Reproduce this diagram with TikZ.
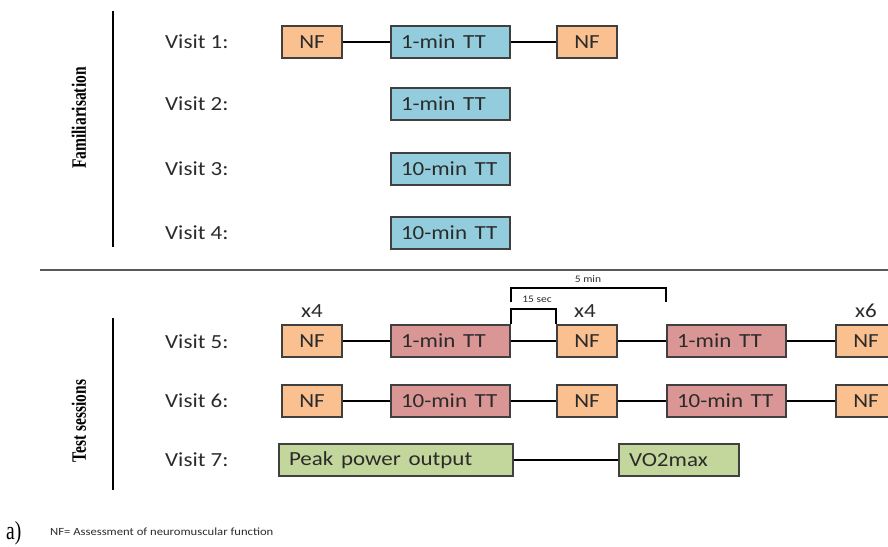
\documentclass[tikz,border=0pt]{standalone}
\usepackage{fontspec}
\usepackage{graphicx}
\setmainfont{Carlito}
\newfontfamily\sideserif{Liberation Serif}
\definecolor{nforange}{HTML}{FAC090}
\definecolor{ttblue}{HTML}{93CDDD}
\definecolor{ttred}{HTML}{D99694}
\definecolor{ppgreen}{HTML}{C3D69B}
\definecolor{boxline}{HTML}{404040}
\definecolor{txt}{HTML}{2B2B2B}
\newcommand{\sx}[1]{\scalebox{1.15}[1]{#1}}
\begin{document}
\begin{tikzpicture}[x=1pt,y=-1pt,
  box/.style={draw=boxline, line width=1.3pt, minimum height=32pt, inner ysep=0pt,
              text=txt, font=\fontsize{20}{24}\selectfont},
  nfbox/.style={box, fill=nforange, minimum width=60pt, inner xsep=0pt},
  ttbox/.style={box, text width=99pt, inner xsep=10pt, align=left},
  bluebox/.style={ttbox, fill=ttblue},
  redbox/.style={ttbox, fill=ttred},
  greenbox/.style={box, fill=ppgreen, inner xsep=10pt, align=left},
  visit/.style={anchor=west, inner sep=0pt, text=txt, font=\fontsize{20}{24}\selectfont},
  rep/.style={inner sep=0pt, text=txt, font=\fontsize{20}{24}\selectfont},
  small/.style={inner sep=0pt, text=txt, font=\fontsize{10}{12}\selectfont},
  side/.style={inner sep=0pt, text=black, font=\sideserif\bfseries\fontsize{15.5}{18}\selectfont},
  link/.style={draw=black, line width=2pt},
  bracket/.style={draw=black, line width=2pt},
  rule/.style={draw=black, line width=2pt},
  sep/.style={draw=black!65, line width=1.3pt}
]
\useasboundingbox (0,0) rectangle (888,546);
\clip (0,0) rectangle (888,546);

% side rules and labels
\draw[rule] (113,11) coordinate (fa) -- (113,247) coordinate (fb);
\draw[rule] (113,318) coordinate (ta) -- (113,490) coordinate (tb);
\node[side] (fam) at (79,118) {\scalebox{1.32}[1]{\rotatebox{90}{Familiarisation}}};
\node[side] (tst) at (79,421) {\scalebox{1.32}[1]{\rotatebox{90}{Test sessions}}};
\draw[sep] (40,270) coordinate (sa) -- (888,270) coordinate (sb);

% visit labels
\node[visit] (v1) at (165,42) {\sx{Visit 1:}};
\node[visit] (v2) at (165,104) {\sx{Visit 2:}};
\node[visit] (v3) at (165,169) {\sx{Visit 3:}};
\node[visit] (v4) at (165,233) {\sx{Visit 4:}};
\node[visit] (v5) at (165,342) {\sx{Visit 5:}};
\node[visit] (v6) at (165,401) {\sx{Visit 6:}};
\node[visit] (v7) at (165,460) {\sx{Visit 7:}};

% Visit 1
\node[nfbox] (a1) at (312,42) {\sx{NF}};
\node[bluebox] (a2) at (450.5,42) {\sx{1-min TT}};
\node[nfbox] (a3) at (587,42) {\sx{NF}};
\draw[link] (a1) -- (a2);
\draw[link] (a2) -- (a3);
% Visit 2-4
\node[bluebox] (b2) at (450.5,104) {\sx{1-min TT}};
\node[bluebox] (c2) at (450.5,169) {\sx{10-min TT}};
\node[bluebox] (d2) at (450.5,233) {\sx{10-min TT}};

% Visit 5
\node[nfbox] (e1) at (312,341) {\sx{NF}};
\node[redbox] (e2) at (450.5,341) {\sx{1-min TT}};
\node[nfbox] (e3) at (587,341) {\sx{NF}};
\node[redbox] (e4) at (726.5,341) {\sx{1-min TT}};
\node[nfbox] (e5) at (866,341) {\sx{NF}};
\draw[link] (e1) -- (e2);
\draw[link] (e2) -- (e3);
\draw[link] (e3) -- (e4);
\draw[link] (e4) -- (e5);
\node[rep] (x1) at (312,311) {\sx{x4}};
\node[rep] (x2) at (585,311) {\sx{x4}};
\node[rep] (x3) at (866,311) {\sx{x6}};

% brackets
\draw[bracket] (e2.north east) -- ++(0,-15) -| (e3.north west);
\draw[bracket] ([yshift=22pt]e2.north east) -- ++(0,-14) -| ([yshift=22pt]e4.north west);
\node[small] (s15) at (537,299) {\sx{15 sec}};
\node[small] (s5) at (588,279) {\sx{5 min}};

% Visit 6
\node[nfbox] (f1) at (312,401) {\sx{NF}};
\node[redbox] (f2) at (450.5,401) {\sx{10-min TT}};
\node[nfbox] (f3) at (587,401) {\sx{NF}};
\node[redbox] (f4) at (726.5,401) {\sx{10-min TT}};
\node[nfbox] (f5) at (866,401) {\sx{NF}};
\draw[link] (f1) -- (f2);
\draw[link] (f2) -- (f3);
\draw[link] (f3) -- (f4);
\draw[link] (f4) -- (f5);

% Visit 7
\node[greenbox, text width=214pt] (g1) at (396,460) {\sx{Peak power output}};
\node[greenbox, text width=100pt] (g2) at (679,460) {\sx{VO2max}};
\draw[link] (g1) -- (g2);

% footnote
\node[anchor=base west, inner sep=0pt, font=\sideserif\fontsize{26}{30}\selectfont] (lab) at (6,539.5) {\scalebox{0.75}[1]{a)}};
\node[anchor=base west, inner sep=0pt, text=txt, font=\fontsize{11}{13}\selectfont] (fn) at (50,535) {\sx{NF= Assessment of neuromuscular function}};
\end{tikzpicture}
\end{document}
